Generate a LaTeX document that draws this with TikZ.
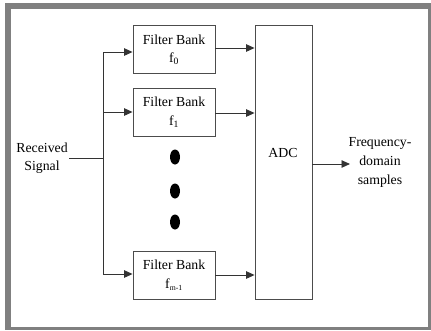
\documentclass[tikz,border=0pt]{standalone}
\usepackage{fontspec}
\setmainfont{Liberation Serif}
\usetikzlibrary{arrows.meta}
\begin{document}
\begin{tikzpicture}[x=1pt,y=-1pt,
  blockbox/.style={draw=black!70,line width=0.9pt,fill=white,inner sep=0pt},
  txt/.style={font=\fontsize{13.8}{15}\selectfont,align=center,inner sep=0pt},
  sig/.style={line width=0.9pt,draw=black!80},
  arr/.style={sig,-{Triangle[length=8.5pt,width=7.5pt]}}]
% page and grey frame
\useasboundingbox (0,0) rectangle (431,330);
\fill[white] (0,0) rectangle (431,330);
\fill[black!50] (5,3) rectangle (431,330);
\fill[white] (11,9) rectangle (428,327);

% filter banks
\node[blockbox,minimum width=82pt,minimum height=48pt] (fb0) at (174,49) {};
\node[txt] at (174,40) {Filter Bank};
\node[txt] at (174,59) {f\textsubscript{0}};
\node[blockbox,minimum width=82pt,minimum height=48pt] (fb1) at (174,112) {};
\node[txt] at (174,102) {Filter Bank};
\node[txt] at (174,122) {f\textsubscript{1}};
\node[blockbox,minimum width=82pt,minimum height=48pt] (fbn) at (174,275) {};
\node[txt] at (174,265) {Filter Bank};
\node[txt] at (174,285) {f\textsubscript{\scalebox{0.8}{m-1}}};

% converter
\node[blockbox,minimum width=57pt,minimum height=274pt] (adc) at (283.5,162) {};
\node[txt] (adct) at (283,153) {ADC};

% ellipsis dots
\foreach \yy in {157,191,222}
  \fill (175,\yy) ellipse [x radius=5pt,y radius=7.5pt];

% input and labels
\node[txt] (rx) at (42,158) {Received\\[3pt]Signal};
\coordinate (rxe) at (69,158);
\coordinate (split) at (103,158);
\coordinate (top) at (103,52);
\coordinate (mid) at (103,112);
\coordinate (bot) at (103,274);
\draw[sig] (rxe) -- (split);
\draw[sig] (top) -- (bot);
\draw[arr] (top) -- (fb0.west |- top);
\draw[arr] (mid) -- (fb1.west |- mid);
\draw[arr] (bot) -- (fbn.west |- bot);

% filter outputs
\draw[arr] (fb0.east |- 0,48) -- (adc.west |- 0,48);
\draw[arr] (fb1.east |- 0,113) -- (adc.west |- 0,113);
\draw[arr] (fbn.east |- 0,275) -- (adc.west |- 0,275);

% output
\node[txt] (out) at (380,162) {Frequency-\\[4pt]domain\\[4pt]samples};
\coordinate (oute) at (350,164);
\draw[arr] (adc.east |- oute) -- (oute);
\end{tikzpicture}
\end{document}
